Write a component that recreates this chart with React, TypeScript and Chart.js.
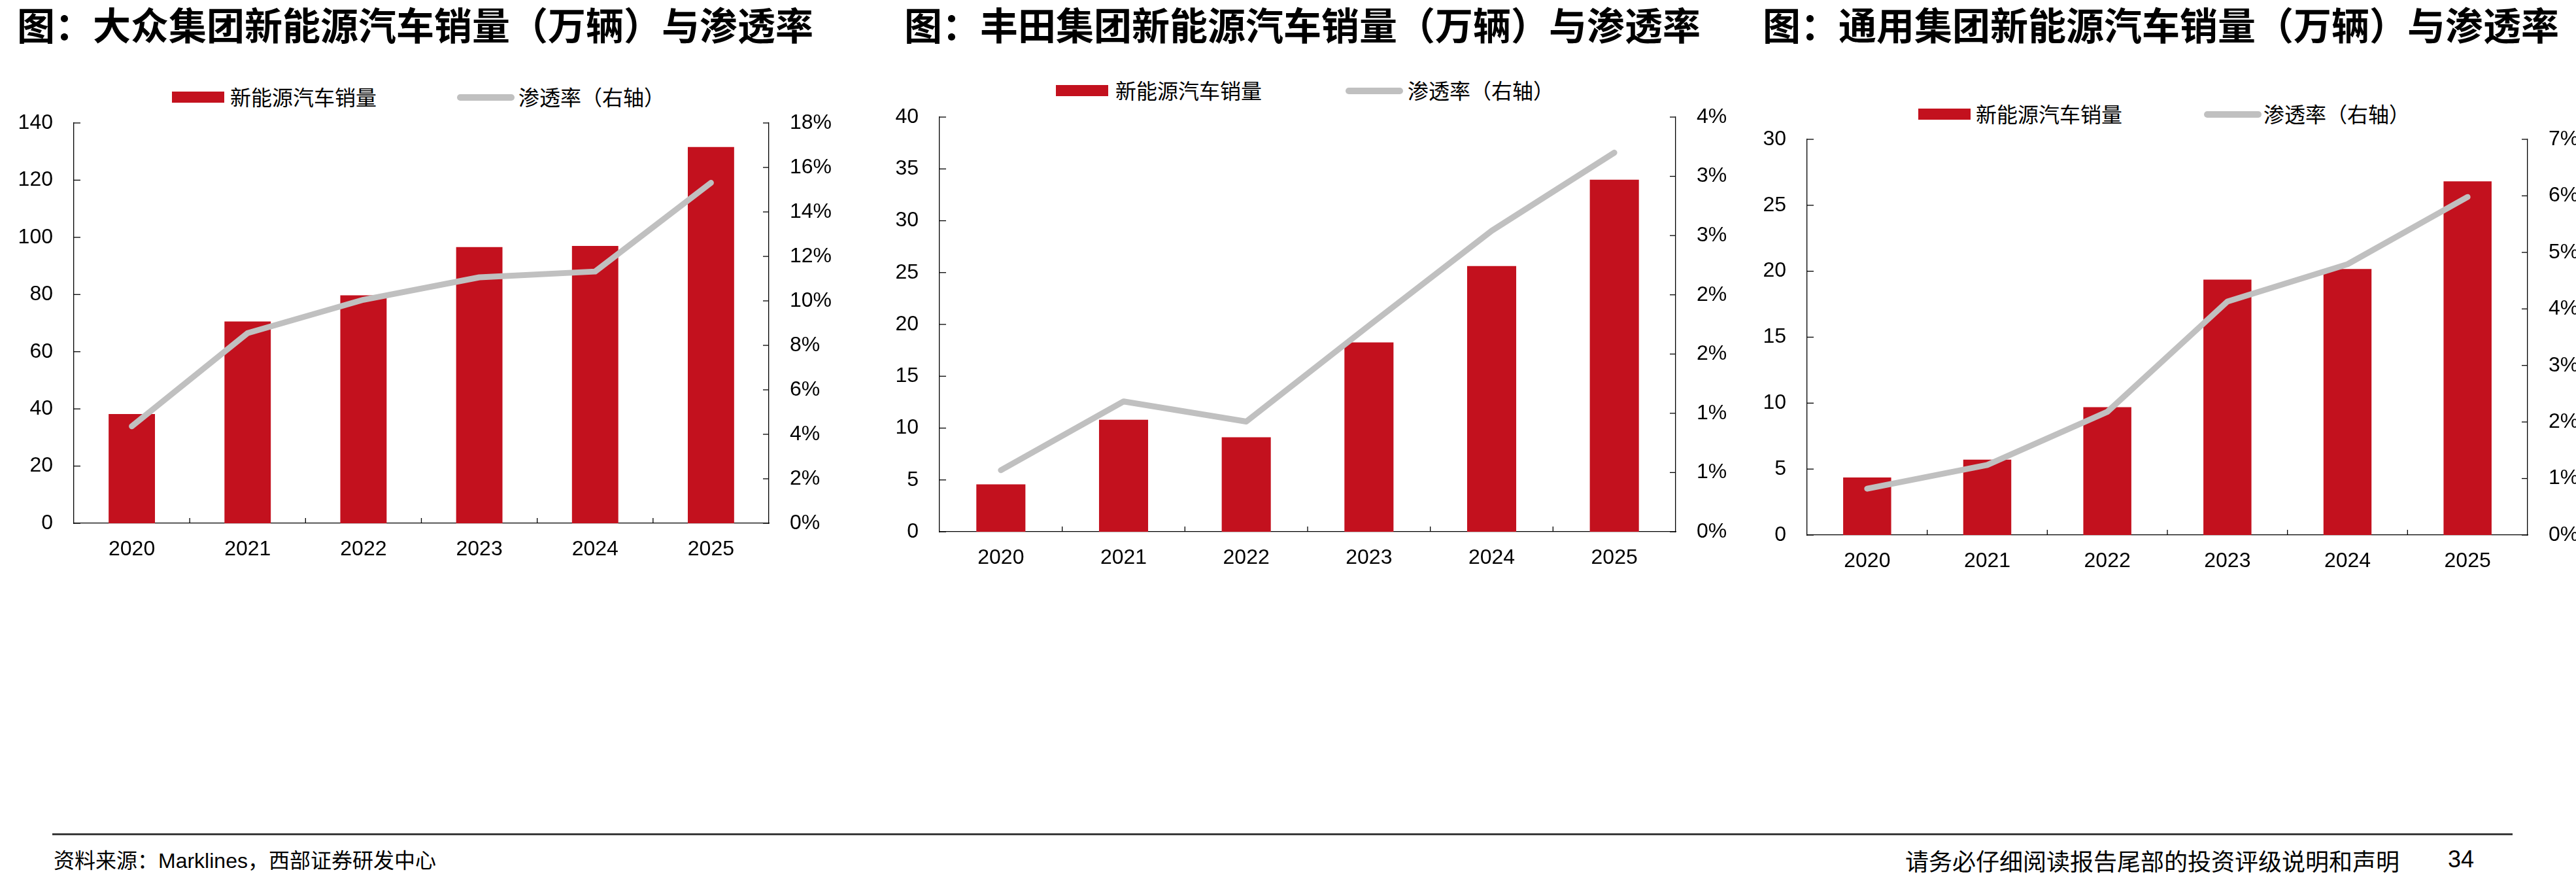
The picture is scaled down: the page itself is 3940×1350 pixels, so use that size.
import React, { useEffect, useRef } from 'react';
import { Chart, registerables } from 'chart.js';

Chart.register(...registerables);

// ---------- data ----------
const years = ['2020', '2021', '2022', '2023', '2024', '2025'];

const vwSales = [38.2, 70.6, 79.7, 96.6, 97.0, 131.6];
const vwRate = [4.36, 8.55, 10.05, 11.06, 11.32, 15.31];

const toyotaSales = [4.58, 10.8, 9.12, 18.27, 25.63, 33.96];
const toyotaRate = [0.52, 1.1, 0.93, 1.74, 2.54, 3.2];

const gmSales = [4.36, 5.72, 9.69, 19.36, 20.17, 26.82];
const gmRate = [0.82, 1.24, 2.18, 4.13, 4.79, 5.98];

const titles = [
  '图：大众集团新能源汽车销量（万辆）与渗透率',
  '图：丰田集团新能源汽车销量（万辆）与渗透率',
  '图：通用集团新能源汽车销量（万辆）与渗透率',
];
const barLabel = '新能源汽车销量';
const lineLabel = '渗透率（右轴）';
const sourceText = '资料来源：Marklines，西部证券研发中心';
const disclaimerText = '请务必仔细阅读报告尾部的投资评级说明和声明';
const pageNumber = '34';

// ---------- styles ----------
const RED = '#C3111E';
const GRAY = '#C0C0C0';
const TICK_FONT = { family: '"Liberation Sans", Arial, sans-serif', size: 32 };
const CJK = '"Noto Sans CJK SC", "Noto Sans", sans-serif';
const AXIS_W = 1.3;

type ChartCfg = {
  sales: number[];
  rate: number[];
  leftMax: number;
  leftStep: number;
  rightMax: number;
  rightStep: number;
  canvas: { left: number; top: number; width: number; height: number };
  leftW: number;
  rightW: number;
  padTop: number;
  xH: number;
};

const innerTicks = {
  id: 'innerTicks',
  afterDraw(chart: any) {
    const { ctx, chartArea, scales } = chart;
    ctx.save();
    ctx.strokeStyle = '#000';
    ctx.lineWidth = AXIS_W;
    const xs = scales.x;
    for (let i = 1; i < xs.ticks.length; i++) {
      const px = (xs.getPixelForTick(i - 1) + xs.getPixelForTick(i)) / 2;
      ctx.beginPath();
      ctx.moveTo(px, chartArea.bottom);
      ctx.lineTo(px, chartArea.bottom - 8);
      ctx.stroke();
    }
    const yl = scales.y;
    for (let i = 0; i < yl.ticks.length; i++) {
      const py = yl.getPixelForTick(i);
      ctx.beginPath();
      ctx.moveTo(chartArea.left, py);
      ctx.lineTo(chartArea.left + 10, py);
      ctx.stroke();
    }
    const yr = scales.y1;
    for (let i = 0; i < yr.ticks.length; i++) {
      const py = yr.getPixelForTick(i);
      ctx.beginPath();
      ctx.moveTo(chartArea.right, py);
      ctx.lineTo(chartArea.right - 9, py);
      ctx.stroke();
    }
    ctx.restore();
  },
};

function ComboChart({ cfg }: { cfg: ChartCfg }) {
  const ref = useRef<HTMLCanvasElement | null>(null);
  useEffect(() => {
    if (!ref.current) return;
    const chart = new Chart(ref.current, {
      type: 'bar',
      data: {
        labels: years,
        datasets: [
          {
            type: 'line',
            label: lineLabel,
            data: cfg.rate,
            yAxisID: 'y1',
            borderColor: GRAY,
            backgroundColor: GRAY,
            borderWidth: 9,
            borderCapStyle: 'round',
            borderJoinStyle: 'round',
            pointRadius: 0,
            tension: 0,
            order: 0,
          } as any,
          {
            type: 'bar',
            label: barLabel,
            data: cfg.sales,
            yAxisID: 'y',
            backgroundColor: RED,
            borderWidth: 0,
            categoryPercentage: 1,
            barPercentage: 0.4,
            order: 1,
          } as any,
        ],
      },
      options: {
        responsive: false,
        animation: false,
        devicePixelRatio: 1,
        layout: { padding: { top: cfg.padTop, left: 0, right: 0, bottom: 0 } },
        plugins: { legend: { display: false }, tooltip: { enabled: false }, title: { display: false } },
        scales: {
          x: {
            type: 'category',
            offset: true,
            grid: { display: false, drawTicks: false },
            border: { display: true, color: '#000', width: AXIS_W },
            ticks: { color: '#000', font: TICK_FONT, padding: 21, maxRotation: 0, autoSkip: false },
            afterFit: (s: any) => {
              s.height = cfg.xH;
            },
          },
          y: {
            position: 'left',
            min: 0,
            max: cfg.leftMax,
            grid: { display: false, drawTicks: false },
            border: { display: true, color: '#000', width: AXIS_W },
            ticks: { stepSize: cfg.leftStep, color: '#000', font: TICK_FONT, padding: 32 },
            afterFit: (s: any) => {
              s.width = cfg.leftW;
            },
          },
          y1: {
            position: 'right',
            min: 0,
            max: cfg.rightMax,
            grid: { display: false, drawTicks: false },
            border: { display: true, color: '#000', width: AXIS_W },
            ticks: {
              stepSize: cfg.rightStep,
              color: '#000',
              font: TICK_FONT,
              padding: 32,
              callback: (v: any) => `${Math.round(Number(v) + 1e-9)}%`,
            },
            afterFit: (s: any) => {
              s.width = cfg.rightW;
            },
          },
        },
      } as any,
      plugins: [innerTicks],
    });
    return () => chart.destroy();
  }, [cfg]);
  const c = cfg.canvas;
  return (
    <canvas
      ref={ref}
      width={c.width}
      height={c.height}
      style={{ position: 'absolute', left: c.left, top: c.top, width: c.width, height: c.height }}
    />
  );
}

const charts: ChartCfg[] = [
  {
    sales: vwSales,
    rate: vwRate,
    leftMax: 140,
    leftStep: 20,
    rightMax: 18,
    rightStep: 2,
    canvas: { left: 0, top: 100, width: 1290, height: 780 },
    leftW: 113,
    rightW: 1290 - 1176,
    padTop: 188 - 100,
    xH: 80,
  },
  {
    sales: toyotaSales,
    rate: toyotaRate,
    leftMax: 40,
    leftStep: 5,
    rightMax: 3.5,
    rightStep: 0.5,
    canvas: { left: 1300, top: 100, width: 1350, height: 780 },
    leftW: 1437 - 1300,
    rightW: 2650 - 2563,
    padTop: 179 - 100,
    xH: 880 - 813,
  },
  {
    sales: gmSales,
    rate: gmRate,
    leftMax: 30,
    leftStep: 5,
    rightMax: 7,
    rightStep: 1,
    canvas: { left: 2660, top: 100, width: 1280, height: 780 },
    leftW: 2764 - 2660,
    rightW: 3940 - 3866,
    padTop: 213 - 100,
    xH: 880 - 818,
  },
];

const titlePos = [
  { left: 26, top: 7 },
  { left: 1383, top: 7 },
  { left: 2696, top: 7 },
];

const legendPos = [
  { box: 263, y: 148.5, text: 352, line: 699, text2: 793 },
  { box: 1615, y: 138.5, text: 1706, line: 2058, text2: 2153 },
  { box: 2934, y: 174.5, text: 3022, line: 3371, text2: 3462 },
];

function Legend({ p }: { p: (typeof legendPos)[number] }) {
  const textStyle: React.CSSProperties = {
    position: 'absolute',
    fontFamily: CJK,
    fontSize: 32,
    lineHeight: '32px',
    color: '#000',
    whiteSpace: 'nowrap',
    top: p.y - 18,
  };
  return (
    <>
      <div style={{ position: 'absolute', left: p.box, top: p.y - 8.5, width: 80, height: 17, background: RED }} />
      <div style={{ ...textStyle, left: p.text }}>{barLabel}</div>
      <div
        style={{
          position: 'absolute',
          left: p.line,
          top: p.y - 5,
          width: 88,
          height: 10,
          borderRadius: 5,
          background: GRAY,
        }}
      />
      <div style={{ ...textStyle, left: p.text2 }}>{lineLabel}</div>
    </>
  );
}

export default function App() {
  return (
    <div
      style={{
        position: 'fixed',
        left: 0,
        top: 0,
        width: 3940,
        height: 1350,
        overflow: 'hidden',
        background: '#fff',
      }}
    >
      {titles.map((t, i) => (
        <div
          key={t}
          style={{
            position: 'absolute',
            left: titlePos[i].left,
            top: titlePos[i].top,
            fontFamily: CJK,
            fontWeight: 700,
            fontSize: 58,
            lineHeight: '58px',
            color: '#000',
            whiteSpace: 'nowrap',
          }}
        >
          {t}
        </div>
      ))}
      {legendPos.map((p, i) => (
        <Legend key={i} p={p} />
      ))}
      {charts.map((c, i) => (
        <ComboChart key={i} cfg={c} />
      ))}
      <div style={{ position: 'absolute', left: 80, top: 1274, width: 3763, height: 3, background: '#3a3a3a' }} />
      <div
        style={{
          position: 'absolute',
          left: 82,
          top: 1300,
          fontFamily: `"Liberation Sans", Arial, ${CJK}`,
          fontSize: 32,
          lineHeight: '32px',
          color: '#000',
          whiteSpace: 'nowrap',
        }}
      >
        {sourceText}
      </div>
      <div
        style={{
          position: 'absolute',
          left: 2914,
          top: 1297,
          fontFamily: CJK,
          fontSize: 36,
          lineHeight: '36px',
          color: '#000',
          whiteSpace: 'nowrap',
        }}
      >
        {disclaimerText}
      </div>
      <div
        style={{
          position: 'absolute',
          left: 3744,
          top: 1296,
          fontFamily: '"Liberation Sans", Arial, sans-serif',
          fontSize: 36,
          lineHeight: '36px',
          color: '#000',
        }}
      >
        {pageNumber}
      </div>
    </div>
  );
}
